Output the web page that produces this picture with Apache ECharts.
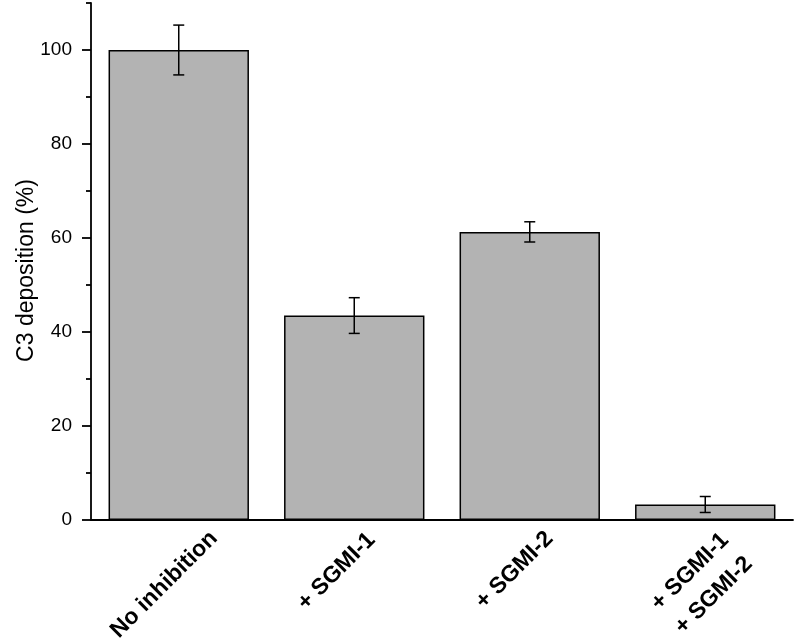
<!DOCTYPE html>
<html><head><meta charset="utf-8">
<script src="https://cdn.jsdelivr.net/npm/echarts@6/dist/echarts.min.js"></script>
<style>html,body{margin:0;padding:0;background:#fff}#c{width:796px;height:641px}</style>
</head><body><div id="c"></div>
<script>
const categories = ['No inhibition', '+ SGMI-1', '+ SGMI-2', '+ SGMI-1\n+ SGMI-2'];
const values = [100, 43.5, 61.3, 3.3];
const errors = [5.3, 3.8, 2.15, 1.7];
const majorTicks = [0, 20, 40, 60, 80, 100];
const minorTicks = [10, 30, 50, 70, 90, 110];

const FONT = '"Liberation Sans", Arial, sans-serif';
const labelBase = { fontFamily: FONT, fontSize: 23, fontWeight: 'bold', color: '#000' };

const chart = echarts.init(document.getElementById('c'), null, { renderer: 'canvas' });
const errData = categories.map((c, i) => [i, values[i] - errors[i], values[i] + errors[i]]);

chart.setOption({
  animation: false,
  backgroundColor: '#fff',
  grid: { left: 91, right: 3, top: 3, bottom: 121, containLabel: false, outerBoundsMode: 'none' },
  xAxis: {
    type: 'category',
    data: categories,
    boundaryGap: true,
    axisLine: { show: true, lineStyle: { color: '#000', width: 1.8 } },
    axisTick: { show: false },
    splitLine: { show: false },
    axisLabel: {
      interval: 0,
      rotate: 45,
      align: 'center',
      verticalAlign: 'middle',
      margin: 50,
      color: '#000',
      fontFamily: FONT,
      fontSize: 23,
      fontWeight: 'bold',
      formatter: function (value, index) {
        if (index === 0) return '{s0|' + value + '}';
        if (index === 1) return '{s1|' + value + '}';
        if (index === 2) return '{s2|' + value + '}';
        const parts = value.split('\n');
        return '{s3a|' + parts[0] + '}\n{s3b|' + parts[1] + '}';
      },
      rich: {
        s0: Object.assign({}, labelBase, { padding: [0, 41, 0, 0] }),
        s1: Object.assign({}, labelBase, { padding: [0, 27, 23, 0] }),
        s2: Object.assign({}, labelBase, { padding: [0, 22, 21, 0] }),
        s3a: Object.assign({}, labelBase, { padding: [21, 24, 0, 0], lineHeight: 40 }),
        s3b: Object.assign({}, labelBase, { padding: [8, 24, 0, 0], lineHeight: 40 })
      }
    }
  },
  yAxis: [{
    type: 'value',
    min: 0, max: 110, interval: 20,
    position: 'left',
    name: 'C3 deposition (%)',
    nameLocation: 'middle',
    nameGap: 53,
    nameMoveOverlap: false,
    nameTextStyle: { fontFamily: FONT, fontSize: 23, color: '#000', padding: [0, 18, 0, 0] },
    axisLine: { show: true, lineStyle: { color: '#000', width: 1.8 } },
    axisTick: { show: true, inside: false, length: 9, customValues: majorTicks, lineStyle: { color: '#000', width: 1.8 } },
    axisLabel: { customValues: majorTicks, margin: 19, fontFamily: FONT, fontSize: 19, color: '#000' },
    splitLine: { show: false }
  }, {
    type: 'value',
    min: 0, max: 110, interval: 20,
    position: 'left',
    axisLine: { show: false },
    axisTick: { show: true, inside: false, length: 5, customValues: minorTicks, lineStyle: { color: '#000', width: 1.8 } },
    axisLabel: { show: false },
    splitLine: { show: false }
  }],
  series: [{
    type: 'bar',
    data: values,
    barWidth: '80%',
    itemStyle: { color: '#b3b3b3', borderColor: '#000', borderWidth: 1.5 },
    z: 2
  }, {
    type: 'custom',
    data: errData,
    encode: { x: 0, y: [1, 2] },
    z: 5,
    renderItem: function (params, api) {
      const lo = api.coord([api.value(0), api.value(1)]);
      const hi = api.coord([api.value(0), api.value(2)]);
      const x = lo[0];
      const hw = 5.5;
      const st = { stroke: '#000', lineWidth: 1.5 };
      return {
        type: 'group',
        children: [
          { type: 'line', shape: { x1: x, y1: lo[1], x2: x, y2: hi[1] }, style: st },
          { type: 'line', shape: { x1: x - hw, y1: lo[1], x2: x + hw, y2: lo[1] }, style: st },
          { type: 'line', shape: { x1: x - hw, y1: hi[1], x2: x + hw, y2: hi[1] }, style: st }
        ]
      };
    }
  }]
});
</script>
</body></html>
